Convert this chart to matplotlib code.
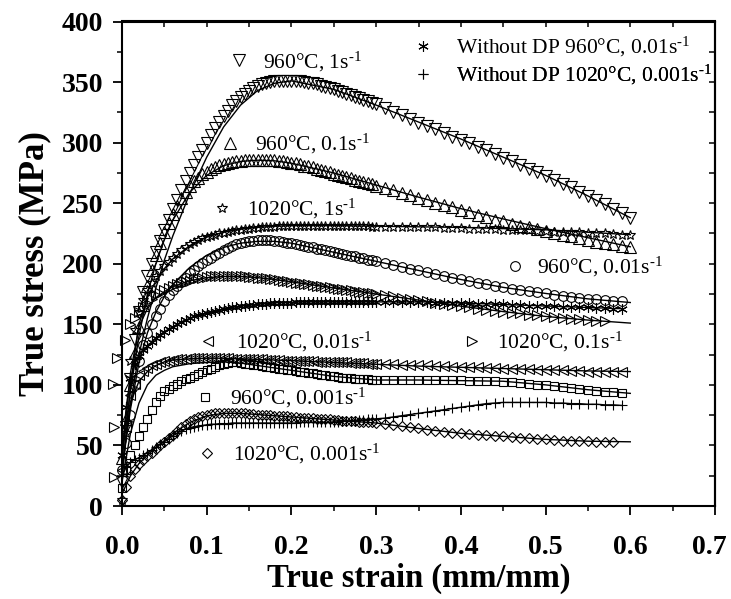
import numpy as np
import matplotlib.pyplot as plt
from matplotlib.lines import Line2D
from matplotlib.ticker import MultipleLocator, FormatStrFormatter
from matplotlib.transforms import offset_copy, ScaledTranslation

plt.rcParams['font.family'] = ['Liberation Serif', 'DejaVu Serif']
plt.rcParams['mathtext.fontset'] = 'custom'
plt.rcParams['mathtext.rm'] = 'Liberation Serif'
plt.rcParams['mathtext.it'] = 'Liberation Serif:italic'
plt.rcParams['mathtext.bf'] = 'Liberation Serif:bold'

# --- measured flow curves (true stress, MPa) ---
# sampled every 0.005 of true strain up to 0.30, then every 0.01 up to 0.60
strain = np.round(np.concatenate([np.arange(0.0, 0.3001, 0.005),
                                  np.arange(0.31, 0.6001, 0.01)]), 3)

s960_1 = [20, 65, 105, 137, 160, 177, 190, 200, 210, 219,
          228, 236.5, 245, 253, 261, 268, 275, 281.5, 288, 294,
          300, 306, 312, 317, 322, 326.5, 331, 334.5, 338, 340.5,
          343, 345, 346.5, 348, 349, 350, 350.5, 351, 351, 351,
          351, 351, 350.5, 350, 349.5, 349, 348, 347, 346, 345,
          344, 343, 341.5, 340, 339, 337.5, 336.5, 335, 334, 332.5,
          331.5,
          328.5, 325.5, 322.5, 319.5, 316.5, 313.5, 311, 308, 305, 302.5,
          299.5, 296.5, 293.5, 290.5, 287.5, 284.5, 281.5, 278.5, 275.5, 272.5,
          269.5, 266, 263, 259.5, 256, 252.5, 249, 245, 241.5, 238]
s960_01 = [40, 72, 100, 126, 148, 166, 182, 195, 207, 217,
           226, 234, 241, 248, 254, 259, 264, 268, 271, 274,
           276, 278, 280, 281.5, 282.5, 283.5, 284, 284.5, 285, 285.5,
           285.5, 286, 286, 286, 286, 286, 285.5, 285, 284.5, 284,
           283.5, 283, 282, 281, 280.5, 279.5, 278.5, 277.5, 276.5, 275.5,
           274.5, 273.5, 272.5, 271.5, 270.5, 269.5, 268.5, 267.5, 266.5, 265.5,
           264.5,
           262.5, 260.5, 258.5, 256.5, 254.5, 252.5, 250.5, 248.5, 246.5, 244.5,
           242.5, 240.5, 238.5, 236.5, 235, 233, 231.5, 230, 228.5, 227,
           225.5, 224, 222.5, 221, 219.5, 218, 217, 216, 215, 214]
s1020_1 = [5, 60, 120, 145, 160, 170, 178, 184.5, 190, 194,
           198, 201.5, 205, 208, 211, 213.5, 216, 218, 219.5, 221,
           222, 223, 224, 225, 225.5, 226.5, 227, 227.5, 228, 228.5,
           229, 229.5, 229.5, 230, 230, 230.5, 230.5, 231, 231, 231,
           231, 231, 231, 231, 231, 231, 231, 231, 231, 231,
           231, 231, 231, 231, 231, 231, 231, 231, 231, 230.5,
           230.5,
           230.5, 230.5, 230.5, 230, 230, 230, 230, 229.5, 229.5, 229.5,
           229, 229, 228.5, 228.5, 228, 228, 227.5, 227.5, 227, 227,
           226.5, 226.5, 226, 226, 225.5, 225, 225, 224.5, 224, 223.5]
s960_001 = [30, 52, 75, 100, 120, 133, 143, 150.5, 157, 163,
            169, 174, 178, 181.5, 185, 188.5, 192, 195, 198, 200.5,
            203, 205, 207, 209, 211, 213, 214.5, 216, 217, 218,
            218.5, 219, 219.5, 219.5, 219.5, 219.5, 219, 218.5, 218, 217.5,
            217, 216.5, 215.5, 215, 214, 213.5, 212.5, 212, 211, 210.5,
            209.5, 209, 208, 207.5, 206.5, 206, 205, 204.5, 203.5, 203,
            202,
            200.5, 199, 197.5, 196, 194.5, 193, 191.5, 190, 188.5, 187,
            185.5, 184, 183, 182, 180.5, 179.5, 178.5, 177.5, 176.5, 175.5,
            174.5, 173.5, 172.5, 172, 171, 170.5, 170, 169.5, 169]
# 1020°C, 0.1 s-1: initial loading points, then the regular samples from 0.010
e1020_01_start = [-0.010, -0.010, -0.011, -0.006, 0.003]
s1020_01_start = [24, 65, 101, 122, 137]
s1020_01 = [150, 155.5, 160, 164, 168, 171, 174, 176, 178, 180,
            181.5, 183, 184, 185, 186, 187, 188, 188.5, 189, 189.5,
            189.5, 190, 190, 190, 190, 190, 189.5, 189.5, 189, 189,
            188.5, 188, 188, 187.5, 187, 186.5, 186, 185.5, 185, 184.5,
            184, 183.5, 183, 182.5, 182, 181.5, 181, 180.5, 180, 179.5,
            179, 178.5, 178, 177.5, 177, 176.5, 176, 175.5, 175,
            174, 173, 172, 171, 170, 169, 168, 167, 166, 165,
            164, 163, 162, 161, 160.5, 159.5, 159, 158, 157.5, 156.5,
            156, 155, 154.5, 154, 153.5, 153, 152.5]
s1020_001 = [30, 65, 92, 101, 108, 111.5, 114, 116, 117.5, 118.5,
             119.5, 120, 120.5, 121, 121.5, 121.5, 122, 122, 122, 122,
             122, 122, 122, 122, 122, 122, 121.5, 121.5, 121.5, 121.5,
             121, 121, 121, 121, 120.5, 120.5, 120.5, 120.5, 120, 120,
             120, 120, 119.5, 119.5, 119.5, 119.5, 119, 119, 119, 119,
             118.5, 118.5, 118.5, 118.5, 118, 118, 118, 118, 117.5, 117.5,
             117.5,
             117, 117, 116.5, 116.5, 116, 116, 115.5, 115.5, 115, 115,
             114.5, 114.5, 114, 114, 113.5, 113.5, 113, 113, 112.5, 112.5,
             112, 112, 111.5, 111.5, 111, 111, 111, 110.5, 110.5]
s960_0001 = [15, 30, 42, 50, 58, 65, 72, 79, 86, 91,
             95, 97, 99, 101, 103, 104.5, 106, 107.5, 109, 110.5,
             112, 113.5, 115, 116.5, 117.5, 118, 118.5, 118.5, 118, 117.5,
             117, 116.5, 116, 115.5, 115, 114.5, 114, 113.5, 113, 112.5,
             112, 111.5, 111, 110.5, 110, 109.5, 109, 108.5, 108, 107.5,
             107, 106.5, 106, 105.5, 105.5, 105, 105, 104.5, 104.5, 104,
             104,
             104, 104, 104, 104, 104, 104, 104, 104, 104, 104,
             103.5, 103.5, 103, 103, 102.5, 102, 101.5, 101, 100, 99.5,
             99, 98, 97.5, 96.5, 96, 95, 94.5, 94, 93.5]
s1020_0001 = [5, 16, 25, 30.5, 35, 38, 41, 44, 47, 50,
              53, 56, 59, 62, 65, 67.5, 70, 72, 73.5, 74.5,
              75.5, 76, 76.5, 77, 77, 77, 77, 77, 76.5, 76.5,
              76, 76, 75.5, 75.5, 75, 75, 74.5, 74.5, 74, 74,
              73.5, 73.5, 73, 73, 72.5, 72.5, 72, 72, 71.5, 71.5,
              71, 71, 70.5, 70.5, 70, 70, 69.5, 69.5, 69, 69,
              68.5,
              68, 67, 66, 65, 64, 63, 62, 61, 60.5, 60,
              59.5, 59, 58.5, 58, 57.5, 57, 56.5, 56, 55.5, 55,
              54.5, 54, 54, 53.5, 53.5, 53, 53, 53]
# specimens without DP
snd960_001 = [42, 82, 106, 117, 124, 128.5, 132, 135.5, 139, 141.5,
              144, 146, 148, 150, 152, 153.5, 155, 156.5, 157.5, 158.5,
              159.5, 160.5, 161, 162, 162.5, 163.5, 164, 164.5, 165, 165.5,
              166, 166, 166.5, 167, 167, 167.5, 167.5, 168, 168, 168,
              168, 168.5, 168.5, 168.5, 168.5, 168.5, 168.5, 168.5, 168.5, 168.5,
              168.5, 168.5, 168.5, 168.5, 168.5, 168.5, 168.5, 168.5, 168.5, 168.5,
              168.5,
              168.5, 168.5, 168.5, 168.5, 168.5, 168.5, 168, 168, 168, 167.5,
              167.5, 167, 167, 166.5, 166.5, 166, 166, 165.5, 165.5, 165,
              165, 164.5, 164.5, 164, 164, 163.5, 163.5, 163, 163]
snd1020_0001 = [25, 32, 36, 38, 40, 42, 44, 46, 48.5, 51,
                53, 55.5, 58, 60, 62, 63.5, 64.5, 65.5, 66, 66.5,
                67, 67.5, 67.5, 68, 68, 68, 68.5, 68.5, 68.5, 68.5,
                68.5, 68.5, 68.5, 68.5, 68.5, 68.5, 68.5, 68.5, 68.5, 68.5,
                68.5, 68.5, 69, 69, 69, 69, 69, 69, 69, 69,
                69.5, 69.5, 70, 70, 70.5, 70.5, 71, 71, 71.5, 71.5,
                72,
                72.5, 73.5, 74.5, 75.5, 76.5, 77.5, 78.5, 79.5, 80.5, 81.5,
                82.5, 83.5, 84.5, 85, 85.5, 85.5, 85.5, 85.5, 85.5, 85.5,
                85, 85, 84.5, 84.5, 84, 84, 83.5, 83.5, 83]

# --- predicted curves ---
fit_strain = [0.0, 0.01, 0.02, 0.03, 0.04, 0.05, 0.06, 0.08, 0.10, 0.12, 0.14, 0.16, 0.18, 0.20,
              0.25, 0.30, 0.35, 0.40, 0.45, 0.50, 0.55, 0.60]
p960_1 = [30, 85, 125, 155, 180, 203, 223, 258, 288, 313, 331, 343, 349, 351, 344, 331, 317, 303,
          288, 273, 256, 238]
p960_01 = [40, 95, 140, 175, 200, 220, 236, 259, 273, 281, 284.5, 285.5, 285, 283, 275, 265, 255,
           245.5, 237, 229, 221.5, 214]
p1020_1 = [20, 100, 150, 172, 186, 196, 204, 215, 222, 226, 228.5, 230, 231, 231.5, 231.5, 231,
           230.5, 230, 229, 228, 226, 224]
p960_001 = [30, 80, 118, 143, 160, 173, 183, 197, 207, 213.5, 217, 218.5, 218.5, 217, 209.5, 202,
            194.5, 187, 180.5, 175.5, 171, 168]
p1020_01 = [40, 110, 148, 163, 172, 177, 181, 186, 188.5, 189.5, 189.5, 188.5, 187, 185, 180, 175,
            170, 165, 160.5, 156.5, 153.5, 151]
p1020_001 = [30, 85, 103, 111, 116, 119, 120.5, 121.5, 122, 122, 121.5, 121, 120.5, 120, 118.5, 117,
             115.5, 114.5, 113.5, 112.5, 111.5, 111]
p960_0001 = [20, 60, 85, 100, 108, 112, 115, 117.5, 118.5, 119, 118, 116, 114, 112, 107, 104, 104,
             103.5, 103, 100, 96, 93]
p1020_0001 = [10, 25, 35, 42, 48, 54, 60, 69, 74.5, 76.5, 76.5, 75.5, 74.5, 73.5, 71, 68.5, 64, 60,
              57.5, 55, 53.5, 53]

inv_s = r's$^{\text{-}1}$'
labels = ['960°C, 1' + inv_s, '960°C, 0.1' + inv_s, '1020°C, 1' + inv_s, '960°C, 0.01' + inv_s,
          '1020°C, 0.01' + inv_s, '1020°C, 0.1' + inv_s, '960°C, 0.001' + inv_s,
          '1020°C, 0.001' + inv_s, 'Without DP 960°C, 0.01' + inv_s,
          'Without DP 1020°C, 0.001' + inv_s]

fig = plt.figure(figsize=(7.31, 5.99), dpi=100)
ax = fig.add_axes([122 / 731, 93 / 599, 593 / 731, 484.5 / 599])

mk = dict(ls='none', mfc='none', mec='k', mew=0.8, clip_on=False)

# model lines first, experimental points over them
for p in [p960_1, p960_01, p1020_1, p960_001, p1020_01, p1020_001, p960_0001, p1020_0001]:
    ax.plot(fit_strain, p, color='k', lw=1.0)

ax.plot(strain[:len(snd960_001)], snd960_001, color='k', lw=1.0)
ax.plot(strain[:len(snd1020_0001)], snd1020_0001, color='k', lw=1.0)

styles = [('v', 8.0), ('^', 8.0), ('*', 7.0), ('o', 7.0), ('<', 7.5), ('>', 7.5), ('s', 6.0),
          ('D', 5.0), ((6, 2, 0), 7.5), ('+', 7.5)]
e1020_01 = np.concatenate([e1020_01_start, strain[2:len(s1020_01) + 2]])
series = [
    (strain[:len(s960_1)], s960_1),
    (strain[:len(s960_01)], s960_01),
    (strain[:len(s1020_1)], s1020_1),
    (strain[:len(s960_001)], s960_001),
    (strain[:len(s1020_001)], s1020_001),
    (e1020_01, s1020_01_start + s1020_01),
    (strain[:len(s960_0001)], s960_0001),
    (strain[:len(s1020_0001)], s1020_0001),
    (strain[:len(snd960_001)], snd960_001),
    (strain[:len(snd1020_0001)], snd1020_0001),
]
for (x, y), (m, ms) in zip(series, styles):
    ax.plot(x, y, marker=m, ms=ms, **mk)

# in-plot keys: marker centre (data coords) and gap from marker to text in pixels
key_pos = [(0.1381, 367.0, 24), (0.1275, 298.9, 25), (0.1177, 245.1, 25), (0.4640, 197.3, 22),
           (0.1019, 135.6, 28), (0.4128, 135.6, 25), (0.0980, 89.0, 25), (0.1000, 42.6, 26),
           (0.3557, 379.2, 33), (0.3557, 355.8, 33)]
fs = 15.5
fs_px = fs * 100 / 72
for (m, ms), lab, (kx, ky, gap) in zip(styles, labels, key_pos):
    h = Line2D([], [], marker=m, ms=ms, ls='none', mfc='none', mec='k', mew=0.8)
    tr = offset_copy(ax.transData, fig=fig, x=-0.5 * fs, y=0, units='points')
    leg = ax.legend([h], [lab], loc='center left', bbox_to_anchor=(kx, ky), bbox_transform=tr,
                    frameon=False, borderpad=0, borderaxespad=0, handlelength=1.0,
                    handletextpad=gap / fs_px - 0.5, numpoints=1, prop={'size': fs})
    ax.add_artist(leg)

ax.set_xlim(0, 0.7)
ax.set_ylim(0, 400)
ax.set_xticks(np.round(np.arange(0, 0.71, 0.1), 1))
ax.xaxis.set_minor_locator(MultipleLocator(0.05))
ax.yaxis.set_major_locator(MultipleLocator(50))
ax.yaxis.set_minor_locator(MultipleLocator(25))
ax.xaxis.set_major_formatter(FormatStrFormatter('%.1f'))
ax.tick_params(which='major', direction='out', length=6.5, width=1.3, labelsize=20)
ax.tick_params(axis='x', which='major', pad=14.5)
ax.tick_params(axis='y', which='major', pad=7)
ax.tick_params(which='minor', direction='out', length=3.5, width=1.1)
for t in ax.get_xticklabels() + ax.get_yticklabels():
    t.set_fontweight('bold')
# keep the last strain label inside the canvas
last = ax.xaxis.get_major_ticks()[-1].label1
last.set_transform(last.get_transform() + ScaledTranslation(-4 / 72, 0, fig.dpi_scale_trans))

secx = ax.secondary_xaxis('top')
secx.xaxis.set_major_locator(MultipleLocator(0.05))
secx.tick_params(which='major', direction='in', length=4, width=1.1, labeltop=False)
secy = ax.secondary_yaxis('right')
secy.yaxis.set_major_locator(MultipleLocator(25))
secy.tick_params(which='major', direction='in', length=4, width=1.1, labelright=False)

for s in list(ax.spines.values()) + [secx.spines['top'], secy.spines['right']]:
    s.set_linewidth(1.5)

ax.set_xlabel('True strain (mm/mm)', fontsize=23.5, fontweight='bold', labelpad=2)
ax.set_ylabel('True stress (MPa)', fontsize=25, fontweight='bold', labelpad=7.5)

fig.savefig('out.png', dpi=100)
